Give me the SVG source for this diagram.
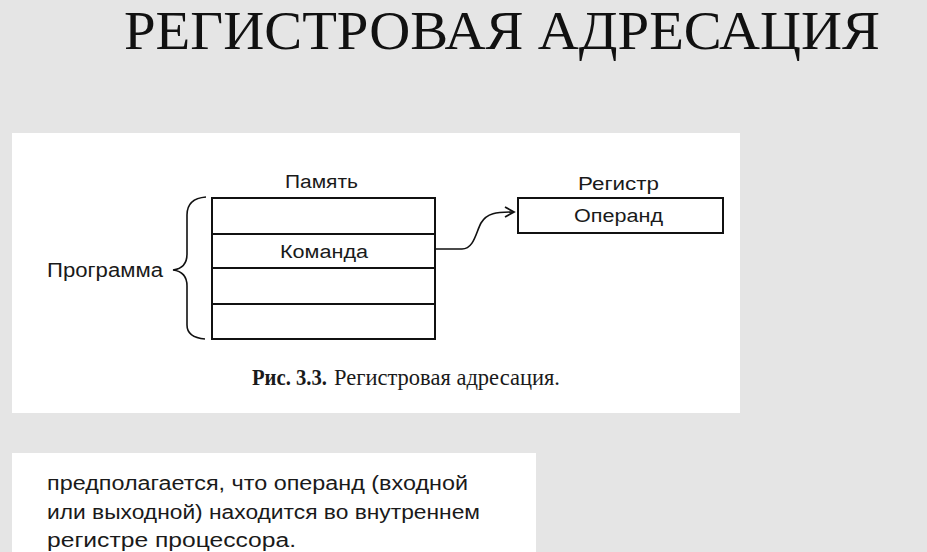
<svg xmlns="http://www.w3.org/2000/svg" width="927" height="552" viewBox="0 0 927 552">
<style>
.sans{font-family:"Liberation Sans",Arial,sans-serif;fill:#1a1a1a}
.box{fill:none;stroke:#111;stroke-width:2}
.line{fill:none;stroke:#111;stroke-width:1.6}
</style>
<defs>
<marker id="arr" markerWidth="12" markerHeight="12" refX="10" refY="6" orient="auto" markerUnits="userSpaceOnUse">
<path d="M1,1 L10,6 L1,11" fill="none" stroke="#111" stroke-width="1.8"/>
</marker>
</defs>
<rect width="927" height="552" fill="#e5e5e5"/>
<text x="124" y="49" font-family="Liberation Serif,Times New Roman,serif" font-size="55" fill="#111" textLength="756" lengthAdjust="spacingAndGlyphs">РЕГИСТРОВАЯ АДРЕСАЦИЯ</text>
<rect x="12" y="133" width="728" height="280" fill="#fff"/>
<g id="memory">
<text class="sans" x="285" y="188" font-size="18" textLength="73" lengthAdjust="spacingAndGlyphs">Память</text>
<rect class="box" x="212" y="198" width="223" height="141"/>
<line class="box" x1="212" y1="234" x2="435" y2="234"/>
<line class="box" x1="212" y1="268" x2="435" y2="268"/>
<line class="box" x1="212" y1="304" x2="435" y2="304"/>
<text class="sans" x="280" y="258" font-size="18" textLength="88" lengthAdjust="spacingAndGlyphs">Команда</text>
</g>
<g id="program">
<path class="line" d="M206,197 C193,198 187,204 187,215 L187,254 C187,264 181,269 173,270 C181,271 187,276 187,286 L187,325 C187,334 193,338 205,339"/>
<text class="sans" x="47" y="277" font-size="20" textLength="116" lengthAdjust="spacingAndGlyphs">Программа</text>
</g>
<g id="register">
<text class="sans" x="578" y="190" font-size="18" textLength="81" lengthAdjust="spacingAndGlyphs">Регистр</text>
<rect class="box" x="518" y="198" width="205" height="35"/>
<text class="sans" x="574" y="222" font-size="18" textLength="89" lengthAdjust="spacingAndGlyphs">Операнд</text>
</g>
<g id="connectors">
<path class="line" d="M435,249 L462,249 C474,249 476,232 481,223 C487,213 496,212 514,212" marker-end="url(#arr)"/>
</g>
<g id="caption">
<text x="252" y="385" font-family="Liberation Serif,Times New Roman,serif" font-size="23" font-weight="bold" fill="#1a1a1a" textLength="75" lengthAdjust="spacingAndGlyphs">Рис. 3.3.</text>
<text x="334" y="385" font-family="Liberation Serif,Times New Roman,serif" font-size="23" fill="#1a1a1a" textLength="226" lengthAdjust="spacingAndGlyphs">Регистровая адресация.</text>
</g>
<rect x="12" y="453" width="524" height="110" fill="#fff"/>
<g class="sans" font-size="20" fill="#222">
<text x="47" y="490" textLength="421" lengthAdjust="spacingAndGlyphs">предполагается, что операнд (входной</text>
<text x="47" y="519" textLength="433" lengthAdjust="spacingAndGlyphs">или выходной) находится во внутреннем</text>
<text x="47" y="547" textLength="249" lengthAdjust="spacingAndGlyphs">регистре процессора.</text>
</g>
</svg>
